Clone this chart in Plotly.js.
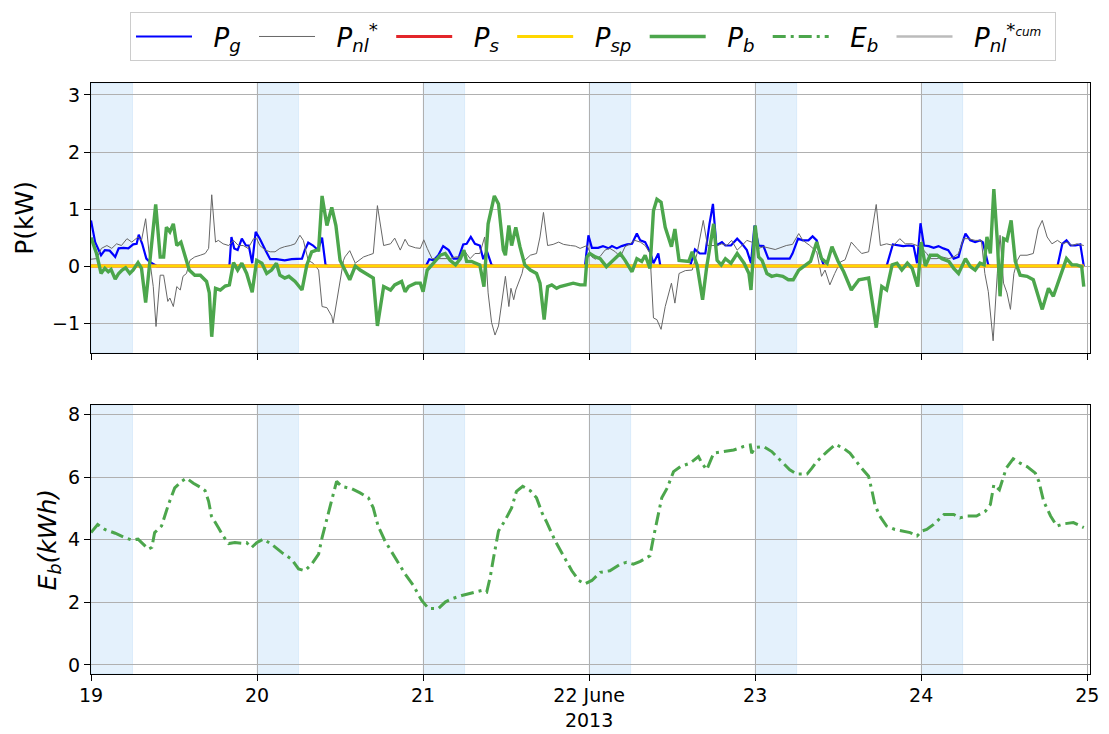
<!DOCTYPE html>
<html><head><meta charset="utf-8">
<script src="https://cdn.plot.ly/plotly-3.0.1.min.js"></script>
<style>body{margin:0;background:#fff}#chart{width:1109px;height:734px}</style>
</head><body><div id="chart"></div>
<script>
// hours after 2013-06-19 00:00
const pgH=[0,0.6,1.45,2,2.7,3.5,4,4.7,5.4,6.1,6.6,6.9,7.4,8,8.5,9.25,9.5,20,20.3,20.7,21.2,21.8,22.4,22.8,23.3,23.8,24.4,25.2,25.9,26.8,28,29,30,30.5,30.9,31.4,32.1,32.8,33.4,33.9,34.2,48.4,48.9,49.5,50.2,50.9,51.7,52.4,53.1,53.8,54.3,54.9,55.5,56.2,56.7,57.2,57.9,58.2,71.4,71.9,72.4,73.3,74,74.8,75.3,76,76.7,77.5,78.2,78.9,79.4,80.1,80.8,81.3,82,82.3,86.6,87.3,88,88.8,89.4,89.9,90.4,91.2,91.7,92.5,93.4,94.1,94.8,95.4,95.9,96.5,97.2,97.9,99.1,100,101,101.4,102.2,102.9,103.7,104.3,104.9,105.4,105.9,106.2,115,115.9,116.7,117.4,118.2,118.9,119.4,119.9,120.4,121.1,121.8,122.5,123.2,123.9,124.7,125.4,125.9,126.4,127.1,127.8,128.5,128.9,129.7,130,139.7,140.4,141,141.6,142.3,143,143.5];
const pgV=[0.8,0.42,0.19,0.28,0.27,0.16,0.31,0.32,0.31,0.38,0.39,0.55,0.39,0.13,0.07,0.02,0,0,0.51,0.31,0.28,0.48,0.36,0.36,0.05,0.6,0.48,0.28,0.12,0.12,0.1,0.12,0.12,0.13,0.28,0.41,0.36,0.28,0.5,0.02,0,0,0.12,0.1,0.19,0.35,0.28,0.13,0.13,0.38,0.39,0.51,0.39,0.36,0.12,0.27,0.02,0,0,0.54,0.32,0.32,0.35,0.31,0.35,0.31,0.35,0.38,0.39,0.57,0.45,0.42,0.25,0.05,0.22,0,0,0.29,0.22,0.22,0.74,1.09,0.36,0.42,0.36,0.36,0.48,0.39,0.28,0.05,0.71,0.36,0.35,0.13,0.13,0.13,0.13,0.22,0.48,0.45,0.45,0.52,0.45,0.19,0.02,0,0,0.38,0.36,0.35,0.36,0.35,0.05,0.75,0.36,0.35,0.32,0.35,0.31,0.28,0.13,0.16,0.39,0.57,0.45,0.42,0.45,0.42,0.02,0,0,0.39,0.45,0.36,0.36,0.38,0];

const pnlH=[0,0.8,1.5,2.3,3,3.7,4.4,5.2,5.9,6.8,7.3,7.9,8.5,9,9.4,10,10.5,11.1,11.4,11.9,12.4,12.9,13.3,13.8,14.3,15,15.8,16.5,17,17.45,18,18.4,19.1,19.9,20.6,21.3,22,22.7,23.5,23.95,24.4,25.2,25.9,26.6,27.3,28,28.8,29.5,30.2,30.7,31.4,32.1,32.9,33.4,34.1,34.8,35,35.8,36.5,36.7,37.4,38.2,38.7,39.4,40.1,40.8,41.4,42.3,43.3,43.9,44.7,45.4,45.9,46.9,47.6,48.1,48.6,49.3,50,50.9,51.9,52.7,53.4,54.1,54.8,55.5,56.2,56.9,57.4,57.9,58.4,58.9,59.4,59.9,60.4,60.7,61.1,61.4,62.3,62.7,63.5,64.4,64.9,65.4,66,66.8,67.6,68.3,69.3,70,70.7,71.7,72.4,72.9,73.6,74.3,75,75.8,76.5,77.2,77.9,78.6,79.4,80.1,80.8,81.3,81.8,82.4,83,83.9,84.4,85,85.9,86.9,87.6,88.5,89.1,89.7,90.5,91.2,91.9,92.6,93.4,94.1,94.8,95.5,96,96.5,97.2,98.1,98.9,99.6,100.5,101.4,102.3,102.9,103.9,104.9,105.6,106.1,106.8,107.5,108.3,109,109.9,110.7,111.4,112.4,113.5,114.1,115,116,116.9,117.7,118.7,119.4,120.1,120.8,121.3,122.3,123,124,124.7,125.4,126.1,126.8,127.8,128.7,129.2,129.7,130.4,131,131.4,131.9,132.4,132.9,133.4,133.9,134.3,135.3,136.2,136.9,137.5,138.2,138.9,139.7,140.4,141.1,141.8,142.5,143.5];
const pnlV=[0.12,0.13,0.31,0.36,0.31,0.39,0.36,0.48,0.42,0.51,0.45,0.83,0.1,-0.36,-1.06,-0.16,-0.16,-0.62,-0.56,-0.71,-0.36,-0.42,-0.18,-0.13,0.1,0.16,0.19,0.22,0.31,1.25,0.42,0.45,0.39,0.36,0.45,0.36,0.36,0.31,0.48,0.48,0.36,0.28,0.25,0.25,0.31,0.34,0.36,0.39,0.54,0.45,0.1,0.05,-0.07,-0.71,-0.73,-0.88,-1.0,-0.42,0.1,0.16,0.27,0.05,0.1,0.16,0.19,0.22,1.06,0.36,0.39,0.49,0.28,0.47,0.36,0.32,0.31,0.46,0.31,0.13,0.13,0.13,0.13,0.16,0.16,0.25,0.13,0.22,0.22,0.51,-0.47,-0.99,-1.21,-1.05,-0.59,-0.18,-0.71,-0.39,-0.59,-0.42,-0.13,0.1,0.19,0.22,0.51,0.94,0.36,0.38,0.42,0.38,0.36,0.35,0.31,0.36,0.16,0.12,0.17,0.28,0.31,0.25,0.16,0.34,0.39,0.45,0.42,0.36,0.22,-0.91,-0.94,-1.11,-0.71,-0.3,-0.65,-0.13,-0.08,-0.07,0.22,0.8,0.36,0.36,0.36,0.39,0.36,0.45,0.28,0.36,0.45,0.42,0.36,0.31,0.34,0.32,0.29,0.32,0.36,0.38,0.57,0.45,0.36,0.25,-0.18,-0.07,-0.33,-0.13,0.07,0.11,0.42,0.31,0.22,0.25,1.08,0.36,0.39,0.36,0.48,0.39,0.39,0.36,0.31,0.22,0.13,0.13,0.16,0.13,0.16,0.22,0.48,0.48,0.45,0.45,-0.13,-0.45,-1.31,-0.13,0.54,-0.3,-0.47,-0.76,-0.13,0.1,0.19,0.19,0.22,0.65,0.8,0.51,0.39,0.45,0.39,0.42,0.36,0.39,0.36];

const pbH=[0,0.8,1.45,2,2.5,2.9,3.5,4,4.5,5,5.6,6.1,6.8,7.3,7.9,8.5,9.35,10,10.5,10.9,11.4,11.9,12.4,13,13.6,14.2,15,15.8,16.7,17.1,17.45,18,18.7,19.4,20,20.6,21.2,21.8,22.5,23.3,23.95,24.7,25.4,26.1,26.8,27.3,28,28.6,29.5,30.5,31.2,31.9,32.6,32.9,33.4,34.1,34.8,35.4,36,36.6,37.4,38.2,38.9,40.8,41.4,42.3,43.3,43.9,44.9,45.4,45.9,46.9,47.6,48,48.6,49.5,50.5,51.2,51.9,52.7,53.4,53.9,54.3,55,55.8,56.2,56.8,57.4,58.3,58.9,59.6,59.9,60.4,60.8,61.4,62,62.7,63.5,64.4,64.9,65.5,66,66.6,67.3,67.8,68.8,69.7,70.7,71.4,71.7,72.1,72.9,73.6,74.5,75,75.8,76.5,77.2,78.2,78.9,79.6,80.1,80.8,81.3,81.8,82.4,83,83.9,84.4,85,85.9,86.4,86.9,87.6,88.4,89,90,90.5,91.1,91.7,92.5,93.4,94.4,95.1,95.4,96,96.5,97,97.7,98.4,99.1,100,100.8,101.5,102.3,103,104,104.9,105.6,106.4,107.1,108,108.8,109.9,111,112.4,113.5,114.3,115,115.8,116.5,117.2,118,118.7,119.5,120,120.6,121.3,122.3,123,124,124.7,125.4,126.4,127.1,127.8,128.5,129.1,129.5,130,130.5,131,131.4,131.9,132.4,133,133.6,134.3,135.3,136.2,137.5,138.4,139.1,140.1,141,141.8,142.5,143.2,143.5];
const pbV=[0.5,0.22,-0.13,-0.04,-0.1,-0.06,-0.23,-0.13,-0.07,-0.03,-0.13,-0.07,0.06,-0.04,-0.64,0.1,1.08,0.16,0.16,0.68,0.6,0.74,0.36,0.42,0.16,-0.07,-0.16,-0.16,-0.27,-0.47,-1.24,-0.39,-0.42,-0.35,-0.33,0.06,-0.07,0.05,-0.13,-0.46,0.1,0.05,-0.13,-0.07,0.05,-0.16,-0.21,-0.18,-0.27,-0.42,0.02,0.25,0.28,0.28,1.23,0.71,1.03,0.71,0.1,-0.05,-0.24,0,-0.07,-0.21,-1.05,-0.36,-0.42,-0.33,-0.27,-0.45,-0.36,-0.3,-0.3,-0.45,-0.07,0.05,0.19,0.22,0.1,0.02,0.13,0.28,0.08,0.08,0.05,0.02,-0.36,0.74,1.23,1.09,0.28,0.19,0.71,0.36,0.68,0.34,0.02,-0.07,-0.13,-0.3,-0.94,-0.36,-0.33,-0.39,-0.36,-0.33,-0.3,-0.33,-0.33,0.16,0.22,0.16,0.13,-0.01,0.05,0.13,0.22,0.1,-0.1,0.13,0.08,0.19,-0.04,0.97,1.17,1.12,0.68,0.34,0.65,0.1,0.08,0.08,0.25,0.02,-0.59,-0.01,0.74,0.1,0.02,0.13,0.05,0.22,0.05,-0.13,-0.42,0.71,0.16,0.1,-0.13,-0.18,-0.16,-0.18,-0.24,-0.24,-0.07,-0.01,0.08,0.42,0.13,0.05,0.34,0.08,-0.1,-0.42,-0.24,-0.21,-1.08,-0.36,-0.42,0.02,0.05,-0.07,0.05,-0.04,-0.36,0.42,0,0.19,0.19,0.13,0.08,-0.04,-0.13,0.13,-0.01,-0.07,0.05,0.02,0.51,0.22,1.35,0.45,-0.53,0.48,0.45,0.8,0.08,-0.16,-0.18,-0.24,-0.76,-0.39,-0.53,-0.18,0.13,0.02,0.02,-0.01,-0.36];

const ebH=[0,0.96,2,3.5,4.9,5.9,6.8,7.6,8.3,8.8,9.2,10.2,11.2,12.1,13.1,13.8,14.8,15.8,16.5,17,17.4,18.4,19.1,19.9,20.8,21.8,22.5,23.2,23.95,24.9,26.1,27.6,29,30,30.9,31.9,32.9,33.4,34.1,34.8,35.5,36.2,37.7,38.9,40.1,40.8,41.5,42.5,43.5,44.4,45.4,46.6,47.3,47.8,48.8,50.2,51.2,52.1,53.6,55,56.5,57.2,57.7,58.2,58.9,59.8,60.8,61.5,62.4,63.5,64.4,65.2,65.9,67.1,68.5,69.5,70.5,71.4,72.4,73.6,75,76.5,77.4,78.4,79.4,80.8,81.3,81.8,82.5,83.3,84.2,85.2,86.6,87.8,88.3,89,90,91.4,92.9,94.3,95.3,95.5,96,97.2,98.4,99.6,101,102,103.5,104.2,104.9,106.4,107.6,108.8,109.7,111.2,112.4,112.9,113.3,114,115,116.2,117.4,118.4,119.4,120.1,120.8,121.8,123.3,124.7,125.6,126.6,128,129.3,130,130.5,131.3,132.3,133.3,134.3,135.3,136.5,137,137.7,138.7,139.6,140.6,142,143.5];
const ebV=[4.23,4.49,4.33,4.21,4.07,3.99,4.02,3.84,3.7,3.76,4.23,4.44,5.13,5.66,5.87,5.97,5.81,5.68,5.57,5.23,4.76,4.39,4.12,3.88,3.91,3.89,3.91,3.75,3.91,4.02,3.86,3.59,3.38,3.07,3.01,3.22,3.54,4.07,4.7,5.34,5.87,5.71,5.63,5.5,5.34,5.02,4.44,3.96,3.59,3.28,2.91,2.54,2.27,2.06,1.8,1.8,2.01,2.11,2.22,2.29,2.38,2.33,2.8,3.44,4.28,4.6,5.02,5.55,5.71,5.57,5.34,4.86,4.55,3.96,3.38,3.01,2.7,2.59,2.7,2.96,3.01,3.22,3.28,3.22,3.31,3.49,4.07,4.65,5.34,5.66,6.18,6.34,6.45,6.66,6.45,6.24,6.77,6.82,6.87,6.98,7.03,6.77,6.95,6.98,6.82,6.55,6.24,6.1,6.1,6.29,6.5,6.82,7.05,6.92,6.77,6.34,6.03,5.55,5.13,4.76,4.44,4.33,4.28,4.23,4.12,4.28,4.33,4.49,4.81,4.81,4.7,4.76,4.76,4.92,5.13,5.76,5.6,6.29,6.59,6.45,6.34,6.13,5.87,5.23,4.76,4.44,4.51,4.55,4.39];

const flatH=[0,143.5];
const psV=[0,0];
const pspV=[0,0];

const dayTicks=[0,24,48,72,96,120,144];
const dayLabels=['19','20','21','22 June<br>2013','23','24','25'];
const nightStart=[0,24,48,72,96,120];
const nightLen=6;

const pre='&nbsp;&nbsp;', post='&nbsp;';
const labels=['<i>P<sub>g</sub></i>','<i>P<sub>nl</sub><sup>*</sup></i>','<i>P<sub>s</sub></i>','<i>P<sub>sp</sub></i>','<i>P<sub>b</sub></i>','<i>E<sub>b</sub></i>','<i>P<sub>nl</sub><sup>*<span style="font-size:12px">cum</span></sup></i>'];
const names=labels.map(s=>pre+s+post);

function t(h){return new Date(Date.UTC(2013,5,19)+Math.round(h*3600000)).toISOString().slice(0,19).replace('T',' ');}
const T=a=>a.map(t);

const traces=[
 {x:T(pgH),y:pgV,name:names[0],mode:'lines',line:{color:'#0000ff',width:2.2},xaxis:'x',yaxis:'y'},
 {x:T(pnlH),y:pnlV,name:names[1],mode:'lines',line:{color:'#666666',width:1},xaxis:'x',yaxis:'y'},
 {x:T(flatH),y:psV,name:names[2],mode:'lines',line:{color:'#e3262a',width:3},xaxis:'x',yaxis:'y'},
 {x:T(flatH),y:pspV,name:names[3],mode:'lines',line:{color:'#ffd700',width:3},xaxis:'x',yaxis:'y'},
 {x:T(pbH),y:pbV,name:names[4],mode:'lines',line:{color:'#4ca64c',width:3.4},xaxis:'x',yaxis:'y'},
 {x:T(ebH),y:ebV,name:names[5],mode:'lines',line:{color:'#4ca64c',width:3,dash:'13px,5px,3px,5px'},xaxis:'x2',yaxis:'y2'},
 {x:[null],y:[null],name:names[6],mode:'lines',line:{color:'#bbbbbb',width:2.5},xaxis:'x',yaxis:'y'}
];

const shapes=[];
nightStart.forEach(h=>{
 ['y domain','y2 domain'].forEach((yr,i)=>{
  shapes.push({type:'rect',xref:i?'x2':'x',yref:yr,x0:t(h),x1:t(h+nightLen),y0:0,y1:1,
   fillcolor:'rgba(30,136,229,0.12)',line:{width:1,color:'rgba(30,136,229,0.10)'},layer:'below'});
 });
});

const axX={type:'date',range:[t(0),t(144.4)],tickvals:T(dayTicks),ticktext:dayLabels,ticks:'outside',ticklen:6,tickcolor:'#000',
 showgrid:true,gridcolor:'#b0b0b0',gridwidth:1,showline:true,mirror:true,linecolor:'#000',linewidth:1.2,zeroline:false,tickfont:{size:19}};
const layout={
 width:1109,height:734,margin:{l:91,r:19,t:78,b:60},
 paper_bgcolor:'#fff',plot_bgcolor:'#fff',
 font:{family:'DejaVu Sans, sans-serif',color:'#000'},
 showlegend:true,
 legend:{orientation:'h',x:0.5025,xanchor:'center',y:1.12,yanchor:'top',bordercolor:'#cccccc',borderwidth:1,
  bgcolor:'#fff',font:{size:26},itemwidth:56,traceorder:'normal'},
 xaxis:Object.assign({},axX,{anchor:'y',showticklabels:false}),
 xaxis2:Object.assign({},axX,{anchor:'y2',matches:'x',ticklabelstandoff:-2}),
 yaxis:{domain:[0.5436,1],range:[-1.52,3.21],tickvals:[-1,0,1,2,3],ticks:'outside',ticklen:6,tickcolor:'#000',
  showgrid:true,gridcolor:'#b0b0b0',showline:true,mirror:true,linecolor:'#000',linewidth:1.2,zeroline:false,tickfont:{size:19},
  title:{text:'P(kW)',font:{size:25},standoff:11}},
 yaxis2:{domain:[0,0.4547],range:[-0.29,8.3],tickvals:[0,2,4,6,8],ticks:'outside',ticklen:6,tickcolor:'#000',
  showgrid:true,gridcolor:'#b0b0b0',showline:true,mirror:true,linecolor:'#000',linewidth:1.2,zeroline:false,tickfont:{size:19},
  title:{text:'<i>E<sub>b</sub>(kWh)</i>',font:{size:25},standoff:4}},
 shapes:shapes
};
Plotly.newPlot('chart',traces,layout,{staticPlot:true,displayModeBar:false});
</script></body></html>
